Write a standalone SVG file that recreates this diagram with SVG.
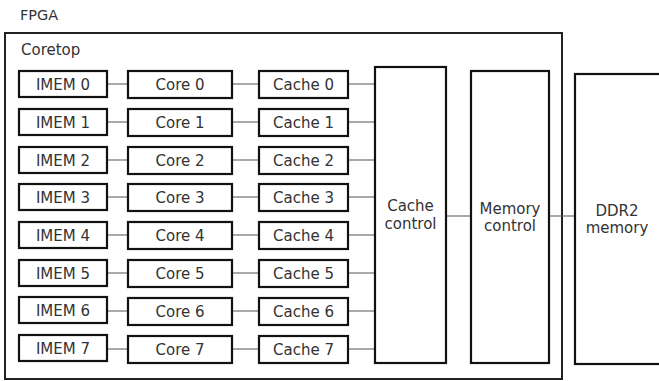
<svg xmlns="http://www.w3.org/2000/svg" width="659" height="381" viewBox="0 0 659 381">
  <style>
    .box { fill: #ffffff; stroke: #111111; stroke-width: 2.2; }
    .frame { fill: none; stroke: #222222; stroke-width: 2; }
    .wire { fill: none; stroke: #555555; stroke-width: 1.2; }
    text { font-family: "DejaVu Sans", "Noto Sans", sans-serif; font-size: 15px; fill: #333333; }
    .c { text-anchor: middle; }
  </style>
  <rect width="659" height="381" fill="#ffffff"/>

  <text x="20" y="20" style="font-size:14.5px">FPGA</text>

  <g id="coretop">
    <rect class="frame" x="5" y="33" width="557" height="346"/>
    <text x="21" y="55">Coretop</text>
  </g>

  <!-- connectors -->
  <g id="connectors">
    <path class="wire" d="M107 84H128 M232 84H259 M348 84H375"/>
    <path class="wire" d="M107 122H128 M232 122H259 M348 122H375"/>
    <path class="wire" d="M107 160H128 M232 160H259 M348 160H375"/>
    <path class="wire" d="M107 197H128 M232 197H259 M348 197H375"/>
    <path class="wire" d="M107 235H128 M232 235H259 M348 235H375"/>
    <path class="wire" d="M107 273H128 M232 273H259 M348 273H375"/>
    <path class="wire" d="M107 311H128 M232 311H259 M348 311H375"/>
    <path class="wire" d="M107 349H128 M232 349H259 M348 349H375"/>
    <path class="wire" d="M446 216H471 M549 216H575"/>
  </g>

  <!-- row 0 -->
  <g id="imem0"><rect class="box" x="19" y="71" width="88" height="26"/><text class="c" x="63" y="90">IMEM 0</text></g>
  <g id="core0"><rect class="box" x="128" y="71" width="104" height="27"/><text class="c" x="180" y="90">Core 0</text></g>
  <g id="cache0"><rect class="box" x="259" y="71" width="89" height="27"/><text class="c" x="303.5" y="90">Cache 0</text></g>
  <!-- row 1 -->
  <g id="imem1"><rect class="box" x="19" y="109" width="88" height="26"/><text class="c" x="63" y="128">IMEM 1</text></g>
  <g id="core1"><rect class="box" x="128" y="109" width="104" height="27"/><text class="c" x="180" y="128">Core 1</text></g>
  <g id="cache1"><rect class="box" x="259" y="109" width="89" height="27"/><text class="c" x="303.5" y="128">Cache 1</text></g>
  <!-- row 2 -->
  <g id="imem2"><rect class="box" x="19" y="147" width="88" height="26"/><text class="c" x="63" y="166">IMEM 2</text></g>
  <g id="core2"><rect class="box" x="128" y="147" width="104" height="27"/><text class="c" x="180" y="166">Core 2</text></g>
  <g id="cache2"><rect class="box" x="259" y="147" width="89" height="27"/><text class="c" x="303.5" y="166">Cache 2</text></g>
  <!-- row 3 -->
  <g id="imem3"><rect class="box" x="19" y="184" width="88" height="26"/><text class="c" x="63" y="203">IMEM 3</text></g>
  <g id="core3"><rect class="box" x="128" y="184" width="104" height="27"/><text class="c" x="180" y="203">Core 3</text></g>
  <g id="cache3"><rect class="box" x="259" y="184" width="89" height="27"/><text class="c" x="303.5" y="203">Cache 3</text></g>
  <!-- row 4 -->
  <g id="imem4"><rect class="box" x="19" y="222" width="88" height="26"/><text class="c" x="63" y="241">IMEM 4</text></g>
  <g id="core4"><rect class="box" x="128" y="222" width="104" height="27"/><text class="c" x="180" y="241">Core 4</text></g>
  <g id="cache4"><rect class="box" x="259" y="222" width="89" height="27"/><text class="c" x="303.5" y="241">Cache 4</text></g>
  <!-- row 5 -->
  <g id="imem5"><rect class="box" x="19" y="260" width="88" height="26"/><text class="c" x="63" y="279">IMEM 5</text></g>
  <g id="core5"><rect class="box" x="128" y="260" width="104" height="27"/><text class="c" x="180" y="279">Core 5</text></g>
  <g id="cache5"><rect class="box" x="259" y="260" width="89" height="27"/><text class="c" x="303.5" y="279">Cache 5</text></g>
  <!-- row 6 -->
  <g id="imem6"><rect class="box" x="19" y="297" width="88" height="26"/><text class="c" x="63" y="316">IMEM 6</text></g>
  <g id="core6"><rect class="box" x="128" y="298" width="104" height="27"/><text class="c" x="180" y="317">Core 6</text></g>
  <g id="cache6"><rect class="box" x="259" y="298" width="89" height="27"/><text class="c" x="303.5" y="317">Cache 6</text></g>
  <!-- row 7 -->
  <g id="imem7"><rect class="box" x="19" y="335" width="88" height="26"/><text class="c" x="63" y="354">IMEM 7</text></g>
  <g id="core7"><rect class="box" x="128" y="336" width="104" height="27"/><text class="c" x="180" y="355">Core 7</text></g>
  <g id="cache7"><rect class="box" x="259" y="336" width="89" height="27"/><text class="c" x="303.5" y="355">Cache 7</text></g>

  <g id="cache-control">
    <rect class="box" x="375" y="67" width="71" height="296"/>
    <text class="c" x="410.5" y="211">Cache</text>
    <text class="c" x="410.5" y="229">control</text>
  </g>
  <g id="memory-control">
    <rect class="box" x="471" y="71" width="78" height="292"/>
    <text class="c" x="510" y="214">Memory</text>
    <text class="c" x="510" y="231">control</text>
  </g>
  <g id="ddr2">
    <rect class="box" x="575" y="74" width="100" height="290"/>
    <text class="c" x="617" y="216">DDR2</text>
    <text class="c" x="617" y="233">memory</text>
  </g>
</svg>
